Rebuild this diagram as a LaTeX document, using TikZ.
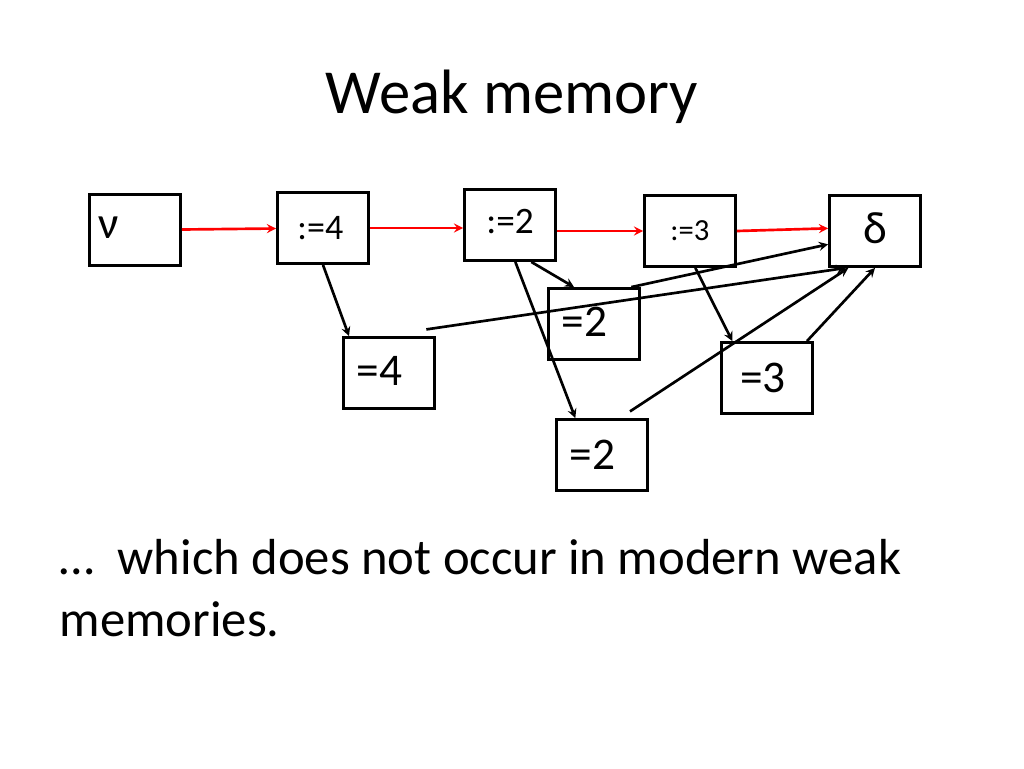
\documentclass[tikz,border=0pt]{standalone}
\usepackage{fontspec}
\setmainfont{Carlito}
\usetikzlibrary{positioning}
\begin{document}
\begin{tikzpicture}[x=0.75pt,y=-0.75pt,
    box/.style={draw, line width=2.4pt, minimum width=68pt, minimum height=53pt, inner sep=0pt, font=\fontsize{34}{34}\selectfont},
    wr/.style={->, >=stealth, red, line width=2pt},
    rd/.style={->, >=stealth, line width=2pt}]
\useasboundingbox (0,0) rectangle (1024,768);
\node at (512,97) {\fontsize{47}{47}\selectfont Weak memory};
% write nodes
\node [box, text width=55pt] (nu) at (135,230) {\raisebox{4pt}{ν}};
\node [box, font=\fontsize{27}{27}\selectfont] (w4) at (323,228) {\hspace*{-4pt}:=4};
\node [box, font=\fontsize{28}{28}\selectfont] (w2) at (510,225) {\raisebox{6pt}{:=2}};
\node [box, font=\fontsize{23}{23}\selectfont] (w3) at (690,231) {:=3};
\node [box] (dl) at (875,231) {\raisebox{4pt}{δ}};
% read nodes
\node [box] (r2a) at (594,324) {\hspace*{-14pt}\raisebox{3pt}{=2}};
\node [box] (r4) at (389,373) {\hspace*{-14pt}\raisebox{3pt}{=4}};
\node [box] (r3) at (767,378) {\hspace*{-6pt}=3};
\node [box] (r2b) at (602,455) {\hspace*{-14pt}=2};
% coherence order
\draw [wr] (nu) -- (w4);
\draw [wr] (w4) -- (w2.west |- w4);
\draw [wr] (w2.east |- w3) -- (w3);
\draw [wr] (w3.east) -- ([yshift=2pt]dl.west);
% reads-from
\draw [rd] ([xshift=0pt]w4.south) -- ([xshift=-30pt]r4.north);
\draw [rd] ([xshift=16pt]w2.south) -- ([xshift=-15pt]r2a.north);
\draw [rd] ([xshift=4pt]w2.south) -- ([xshift=-20pt]r2b.north);
\draw [rd] ([xshift=4pt]w3.south) -- ([xshift=-26pt]r3.north);
\draw [rd] ([xshift=28pt]r2a.north) -- ([yshift=-10pt]dl.west);
\draw [rd] ([xshift=28pt,yshift=5pt]r4.north) -- ([xshift=-22pt]dl.south);
\draw [rd] ([xshift=21pt,yshift=5pt]r2b.north) -- ([xshift=-20pt]dl.south);
\draw [rd] ([xshift=30pt]r3.north) -- ([xshift=0pt]dl.south);
\node [anchor=west, align=left, font=\fontsize{38}{47}\selectfont] at (55,588)
  {…\ \ which does not occur in modern weak\\memories.};
\end{tikzpicture}
\end{document}
